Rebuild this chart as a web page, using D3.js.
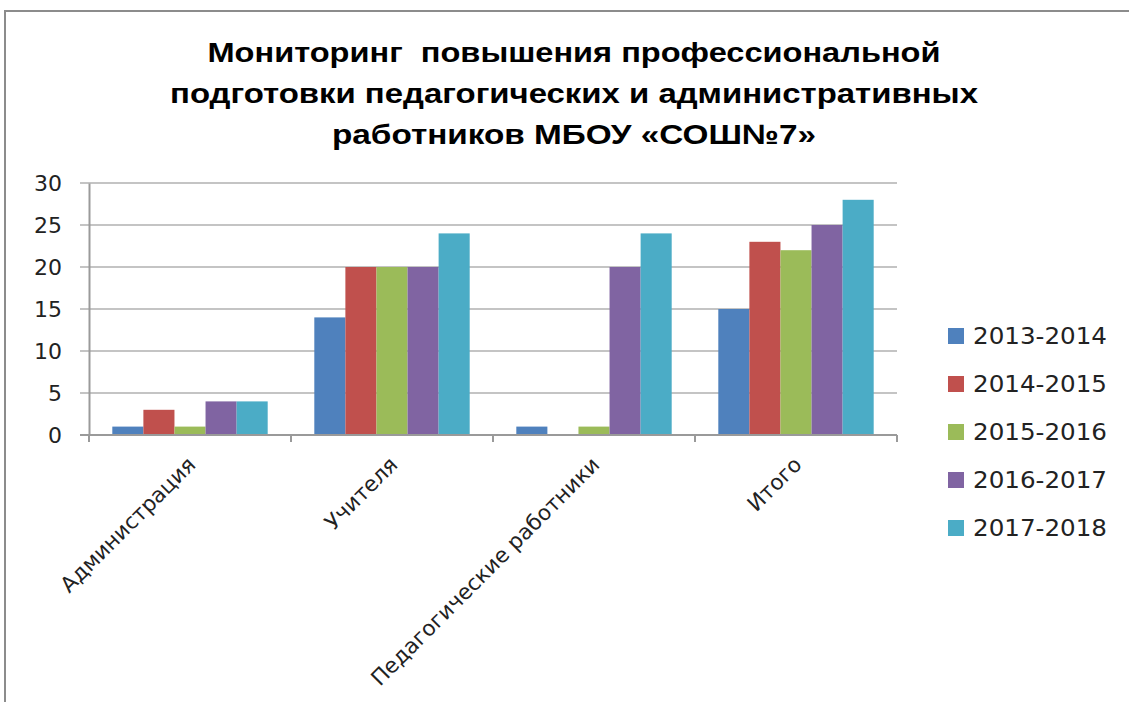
<!DOCTYPE html>
<html><head><meta charset="utf-8">
<script src="https://cdn.jsdelivr.net/npm/d3@7"></script>
<style>body{margin:0;background:#fff}svg{display:block}</style>
</head><body>
<svg id="c" width="1129" height="702"></svg>
<script>
const categories = ["Администрация", "Учителя", "Педагогические работники", "Итого"];
const seriesNames = ["2013-2014", "2014-2015", "2015-2016", "2016-2017", "2017-2018"];
const s2013 = [1, 14, 1, 15];
const s2014 = [3, 20, 0, 23];
const s2015 = [1, 20, 1, 22];
const s2016 = [4, 20, 20, 25];
const s2017 = [4, 24, 24, 28];
const yTicks = [0, 5, 10, 15, 20, 25, 30];
const colors = ["#4F81BD", "#C0504D", "#9BBB59", "#8064A2", "#4BACC6"];
const titleLines = ["Мониторинг  повышения профессиональной", "подготовки педагогических и административных", "работников МБОУ «СОШ№7»"];

const series = [s2013, s2014, s2015, s2016, s2017];
const svg = d3.select("#c");

// frame
svg.append("path").attr("d", "M5,702 L5,11 L1129,11").attr("fill", "none").attr("stroke", "#8c8c8c").attr("stroke-width", 2);

// title
const titleW = [733, 808, 484];
titleLines.forEach((t, i) => {
  svg.append("text").attr("x", 574).attr("y", 62 + i * 41).attr("text-anchor", "middle")
    .style("white-space", "pre")
    .attr("font-family", "Liberation Sans, Arial, sans-serif").attr("font-weight", "bold").attr("font-size", 28)
    .attr("textLength", titleW[i]).attr("lengthAdjust", "spacingAndGlyphs").attr("fill", "#000").text(t);
});

const x0 = d3.scaleBand().domain(categories).range([89, 897]).paddingInner(0).paddingOuter(0);
const x1 = d3.scaleBand().domain(d3.range(5)).range([0, x0.bandwidth()]).paddingOuter(0.75).paddingInner(0);
const y = d3.scaleLinear().domain([0, 30]).range([435, 183]);

// gridlines
svg.append("g").selectAll("line").data(yTicks).join("line")
  .attr("x1", 80).attr("x2", 897).attr("y1", d => y(d)).attr("y2", d => y(d))
  .attr("stroke", "#c4c4c4").attr("stroke-width", 2);

// y axis
const ya = svg.append("g").attr("transform", "translate(89,0)")
  .call(d3.axisLeft(y).tickValues(yTicks).tickSize(0).tickPadding(27));
ya.select(".domain").attr("stroke", "#9a9a9a").attr("stroke-width", 2);
ya.selectAll("text").attr("font-family", "DejaVu Sans, Verdana, sans-serif").attr("font-size", 22).attr("fill", "#222")
  .attr("dy", "0.36em");

// bars
categories.forEach((c, ci) => {
  series.forEach((s, si) => {
    svg.append("rect").attr("x", x0(c) + x1(si)).attr("width", x1.bandwidth())
      .attr("y", y(s[ci])).attr("height", y(0) - y(s[ci])).attr("fill", colors[si]);
  });
});

// x axis
const xa = svg.append("g").attr("transform", "translate(0,435)");
xa.append("line").attr("x1", 80).attr("x2", 897).attr("stroke", "#9a9a9a").attr("stroke-width", 2);
const bounds = categories.map(c => x0(c)).concat([897]);
xa.selectAll("line.t").data(bounds).join("line").attr("class", "t")
  .attr("x1", d => d).attr("x2", d => d).attr("y1", 0).attr("y2", 7).attr("stroke", "#9a9a9a").attr("stroke-width", 2);
xa.selectAll("text").data(categories).join("text")
  .attr("transform", d => `translate(${x0(d) + x0.bandwidth() / 2 + 7},${31}) rotate(-45)`)
  .attr("text-anchor", "end").attr("font-family", "DejaVu Sans, Verdana, sans-serif").attr("font-size", 21.5).attr("fill", "#222")
  .text(d => d);

// legend
const lg = svg.append("g");
seriesNames.forEach((n, i) => {
  const cy = 336 + i * 48;
  lg.append("rect").attr("x", 948).attr("y", cy - 8).attr("width", 16).attr("height", 16).attr("fill", colors[i]);
  lg.append("text").attr("x", 973).attr("y", cy).attr("dy", "0.36em")
    .attr("font-family", "DejaVu Sans, Verdana, sans-serif").attr("font-size", 23).attr("fill", "#222")
    .attr("textLength", 134).attr("lengthAdjust", "spacingAndGlyphs").text(n);
});
</script>
</body></html>
